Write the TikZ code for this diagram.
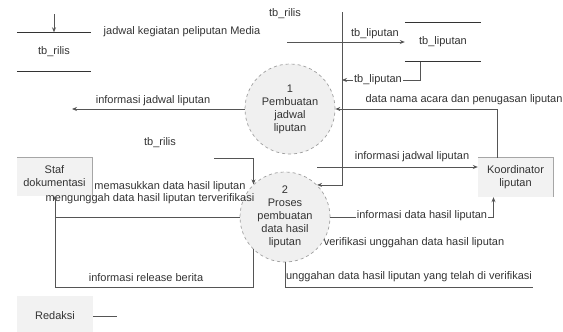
\documentclass[tikz,border=0pt]{standalone}
\usepackage{fontspec}
\setmainfont{Liberation Sans}
\usetikzlibrary{arrows.meta}
\definecolor{linegray}{HTML}{555555}
\definecolor{txtgray}{HTML}{333333}
\begin{document}
\begin{tikzpicture}[x=1pt,y=-1pt,
  font=\fontsize{11}{13}\selectfont,
  flow/.style={draw=linegray, line width=0.8pt},
  arr/.style={flow, -{Stealth[length=5pt,width=4pt]}},
  process/.style={circle, draw=gray!75, dashed, line width=0.7pt, fill=gray!12,
    minimum size=90pt, inner sep=0pt, align=center, text=txtgray},
  entity/.style={fill=gray!10, minimum width=75pt, minimum height=38pt,
    inner sep=0pt, align=center, text=txtgray},
  edgeline/.style={draw=gray!70, line width=0.8pt},
  store/.style={minimum width=74pt, minimum height=39pt, inner sep=0pt, text=txtgray},
  storeline/.style={draw=black!80, line width=1.4pt},
  lbl/.style={inner sep=1pt, text=txtgray},
  onlbl/.style={lbl, fill=white},
]
\useasboundingbox (0,0) rectangle (563,332);

% data stores
\node[store] (rilis) at (54,52) {tb\_rilis};
\draw[storeline] (rilis.north west) -- (rilis.north east);
\draw[storeline] (rilis.south west) -- (rilis.south east);

\node[store, minimum width=76pt] (liputan) at (443,42) {tb\_liputan};
\draw[storeline] (liputan.north west) -- (liputan.north east);
\draw[storeline] (liputan.south west) -- (liputan.south east);

% processes
\node[process] (p1) at (290,109) {1\\Pembuatan\\jadwal\\liputan};
\node[process] (p2) at (285,217) {2\\Proses\\pembuatan\\data hasil\\liputan};

% external entities
\node[entity] (staf) at (54.5,176.5) {Staf\\dokumentasi};
\draw[edgeline] (staf.north west) -- (staf.north east) -- (staf.south east);
\node[entity, minimum height=39pt] (koord) at (515.5,177.5) {Koordinator\\liputan};
\draw[edgeline] (koord.north west) -- (koord.north east) -- (koord.south east);
\node[entity, minimum width=76pt, minimum height=40pt] (redaksi) at (55,316) {Redaksi};

% flows at the top
\coordinate (inA) at (54,14);
\draw[arr] (inA) -- (rilis.north);
\node[lbl] (lkeg) at (182,32) {jadwal kegiatan peliputan Media};

\node[lbl] (ltop) at (285,14) {tb\_rilis};
\coordinate (trunk) at (342,12);
\draw[arr] (trunk) |- (p2.45);

\coordinate (c42) at (287,42);
\draw[arr] (c42) -- (liputan.west);
\node[lbl, anchor=south] (lliput1) at (375,40) {tb\_liputan};

\coordinate (j80) at (342,80);
\draw[arr] ([xshift=-23pt]liputan.south) |- (j80);
\node[onlbl] (lliput2) at (378,80) {tb\_liputan};

% flows around process 1
\coordinate (k112) at (497,111);
\draw[arr] (koord.north -| k112) |- (p1.east);
\node[lbl] (lacara) at (464,100) {data nama acara dan penugasan liputan};

\coordinate (c72) at (72,109);
\draw[arr] (p1.west) -- (c72);
\node[lbl] (ljad1) at (153,101) {informasi jadwal liputan};

\coordinate (c167) at (317,167);
\draw[arr] (c167) -- (koord.west |- c167);
\node[lbl] (ljad2) at (412,157) {informasi jadwal liputan};

% flows around process 2
\coordinate (c157) at (214,158);
\draw[arr] (c157) -| (p2.134);
\node[lbl] (lrilis) at (160,143) {tb\_rilis};

\node[lbl] (lmasuk) at (170,187) {memasukkan data hasil liputan};

\coordinate (c217) at (55,217);
\draw[flow] (p2.west) -- (c217);
\node[lbl] (lunggah) at (150,199) {mengunggah data hasil liputan terverifikasi};

\coordinate (rb) at (55,287);
\draw[arr] (p2.225) |- (rb) -- (staf.south -| rb);
\node[lbl] (lrelease) at (146,278) {informasi release berita};

\draw[arr] (p2.east) -| ([xshift=-22pt]koord.south);
\node[onlbl] (lhasil) at (422,216) {informasi data hasil liputan};

\node[lbl] (lverif) at (414,243) {verifikasi unggahan data hasil liputan};

\coordinate (u533) at (533,287);
\draw[flow] (p2.south) |- (u533);
\node[lbl] (lsudah) at (409,277) {unggahan data hasil liputan yang telah di verifikasi};

\coordinate (r116) at (117,316);
\draw[flow] (redaksi.east) -- (r116);
\end{tikzpicture}
\end{document}
